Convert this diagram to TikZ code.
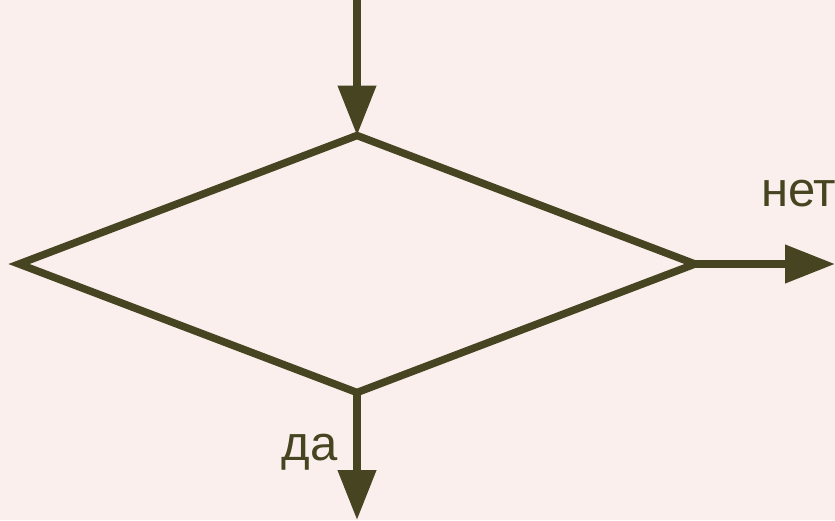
\documentclass[tikz,border=0pt]{standalone}
\usepackage{fontspec}
\setmainfont{Liberation Sans}
\usetikzlibrary{arrows.meta,shapes.geometric}
\definecolor{olive}{HTML}{474421}
\definecolor{bgpink}{HTML}{FAEFEC}
\tikzset{
  flow/.style={draw=olive, line width=7.5pt, -{Triangle[length=50pt,width=37pt]}},
  decision/.style={diamond, draw=olive, line width=7.5pt, minimum width=676pt, minimum height=257pt, inner sep=0pt, outer sep=0pt},
  lbl/.style={text=olive, font=\fontsize{49}{54}\selectfont, inner sep=0pt}
}
\begin{document}
\begin{tikzpicture}[x=1pt,y=-1pt]
\fill[bgpink] (0,0) rectangle (835,520);
\useasboundingbox (0,0) rectangle (835,520);
\node[decision] (d) at (357,264) {};
\coordinate (top) at (357,0);
\coordinate (right) at (835,264);
\coordinate (bottom) at (357,520);
\draw[flow] (top) -- (d.north);
\draw[flow] (d.east) -- (right);
\draw[flow] (d.south) -- (bottom);
\node[lbl, anchor=base west] (no) at (761,206) {нет};
\node[lbl, anchor=base east] (yes) at (338,460) {да};
\end{tikzpicture}
\end{document}
